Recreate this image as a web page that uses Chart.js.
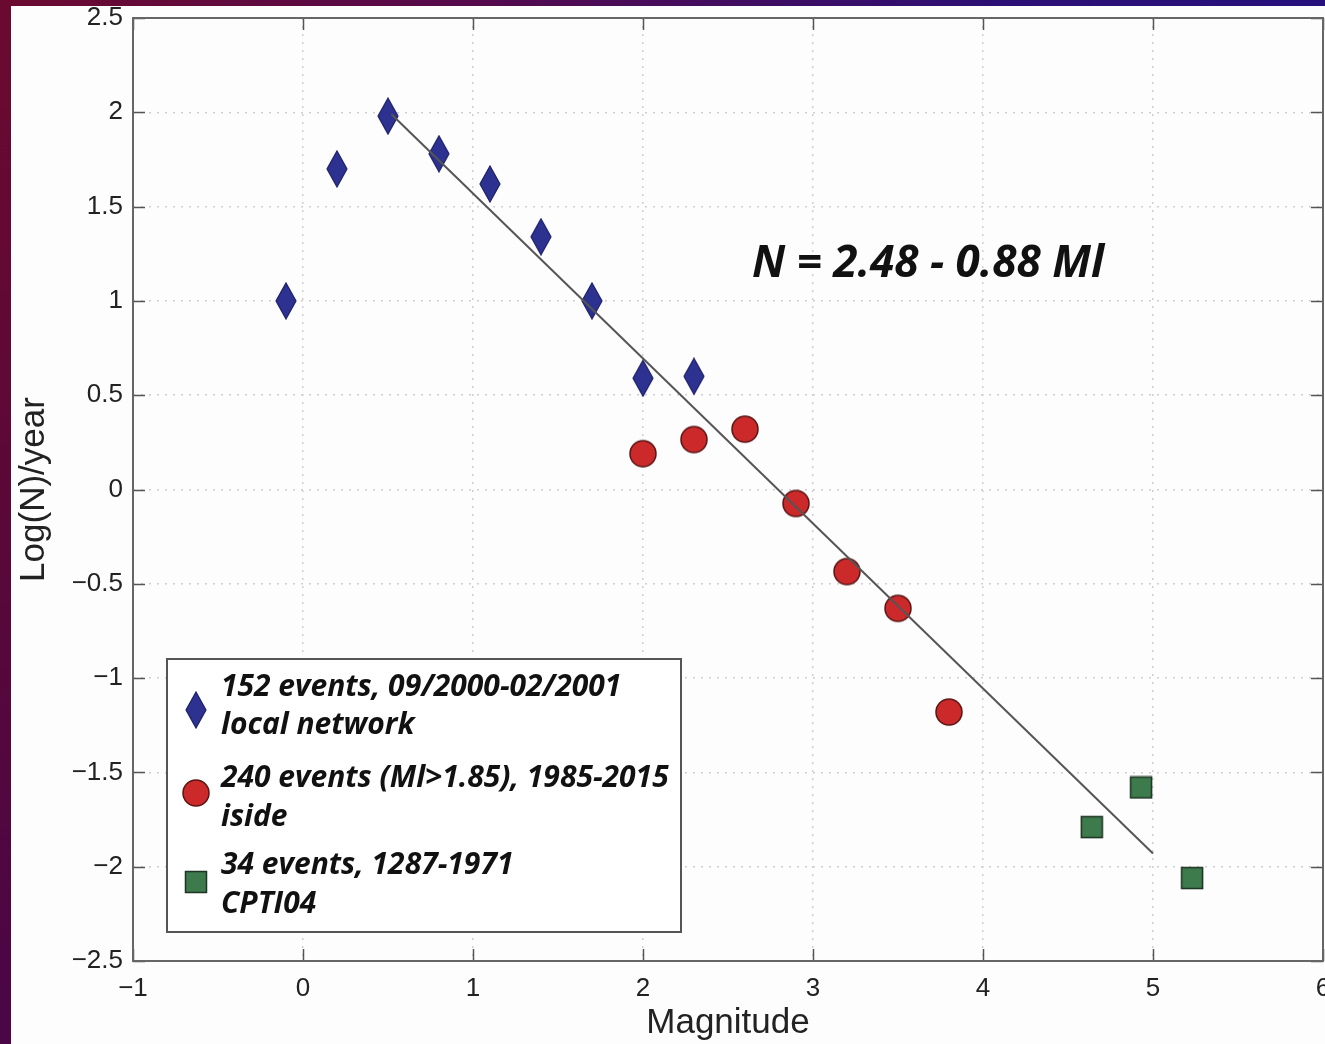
<!DOCTYPE html>
<html>
<head>
<meta charset="utf-8">
<script src="https://cdn.jsdelivr.net/npm/chart.js@4/dist/chart.umd.min.js"></script>
<style>
  html, body { margin: 0; padding: 0; overflow: hidden; width: 1325px; height: 1044px; }
  #slide { position: absolute; left: 0; top: 0; width: 1325px; height: 1044px;
           background: linear-gradient(90deg, #6b0a30 0%, #55094a 35%, #2c0f74 75%, #26107c 100%); }
  #leftStrip { position: absolute; left: 0; top: 0; width: 11px; height: 1044px;
               background: linear-gradient(180deg, #6b0a30 0%, #5a0838 50%, #4a0646 100%); }
  #paper { position: absolute; left: 11px; top: 6px; width: 1314px; height: 1038px; background: #fdfdfd; }
  #chart { position: absolute; left: 0; top: 0; }
</style>
</head>
<body>
<div id="slide"></div>
<div id="leftStrip"></div>
<div id="paper"></div>
<canvas id="chart" width="1360" height="1044"></canvas>
<script>
// local network (diamonds)
const localMag = [-0.1, 0.2, 0.5, 0.8, 1.1, 1.4, 1.7, 2.0, 2.3];
const localLogN = [1.0, 1.70, 1.98, 1.78, 1.62, 1.34, 1.0, 0.59, 0.60];

// iside (circles)
const isideMag = [2.0, 2.3, 2.6, 2.9, 3.2, 3.5, 3.8];
const isideLogN = [0.19, 0.265, 0.32, -0.074, -0.435, -0.63, -1.18];

// CPTI04 (squares)
const cptiMag = [4.64, 4.93, 5.23];
const cptiLogN = [-1.79, -1.58, -2.06];

// fitted line endpoints
const fitMag = [0.52, 5.0];
const fitLogN = [1.99, -1.93];

const xTickValues = [-1, 0, 1, 2, 3, 4, 5, 6];
const yTickValues = [-2.5, -2, -1.5, -1, -0.5, 0, 0.5, 1, 1.5, 2, 2.5];

const legendLines = [
    ['152 events, 09/2000-02/2001', 'local network'],
    ['240 events (Ml>1.85), 1985-2015', 'iside'],
    ['34 events, 1287-1971', 'CPTI04']
];
const fitLabel = 'N = 2.48 - 0.88 Ml';

function toPoints(xs, ys) {
    return xs.map((x, i) => ({ x: x, y: ys[i] }));
}

function fmtTick(v) {
    return v < 0 ? '\u2212' + Math.abs(v) : String(v);
}

// marker images
function makeDiamond() {
    const c = document.createElement('canvas');
    c.width = 24; c.height = 38;
    const g = c.getContext('2d');
    g.beginPath();
    g.moveTo(12, 1); g.lineTo(22, 19); g.lineTo(12, 37); g.lineTo(2, 19); g.closePath();
    g.fillStyle = '#2d3190';
    g.fill();
    g.strokeStyle = '#1c1f6a';
    g.lineWidth = 1.2;
    g.stroke();
    return c;
}
function makeCircle() {
    const c = document.createElement('canvas');
    c.width = 30; c.height = 30;
    const g = c.getContext('2d');
    g.beginPath();
    g.arc(15, 15, 13, 0, Math.PI * 2);
    g.fillStyle = '#cc2a2a';
    g.fill();
    g.strokeStyle = '#5a1414';
    g.lineWidth = 1.5;
    g.stroke();
    return c;
}
function makeSquare() {
    const c = document.createElement('canvas');
    c.width = 24; c.height = 24;
    const g = c.getContext('2d');
    g.fillStyle = '#3d7a4c';
    g.fillRect(1, 1, 22, 22);
    g.strokeStyle = '#1d3323';
    g.lineWidth = 1.5;
    g.strokeRect(1.5, 1.5, 21, 21);
    return c;
}
const diamondImg = makeDiamond();
const circleImg = makeCircle();
const squareImg = makeSquare();

const insideTicks = {
    id: 'insideTicks',
    afterDatasetsDraw(chart) {
        const ctx = chart.ctx;
        const a = chart.chartArea;
        const xs = chart.scales.x, ys = chart.scales.y;
        const len = 12;
        ctx.save();
        ctx.strokeStyle = '#555';
        ctx.lineWidth = 1.5;
        ctx.beginPath();
        xTickValues.forEach(v => {
            const px = Math.round(xs.getPixelForValue(v)) + 0.5;
            ctx.moveTo(px, a.bottom); ctx.lineTo(px, a.bottom - len);
            ctx.moveTo(px, a.top); ctx.lineTo(px, a.top + len);
        });
        yTickValues.forEach(v => {
            const py = Math.round(ys.getPixelForValue(v)) + 0.5;
            ctx.moveTo(a.left, py); ctx.lineTo(a.left + len, py);
            ctx.moveTo(a.right, py); ctx.lineTo(a.right - len, py);
        });
        ctx.stroke();
        ctx.lineWidth = 2;
        ctx.strokeStyle = '#666';
        ctx.strokeRect(a.left, a.top, a.right - a.left, a.bottom - a.top);
        ctx.restore();
    }
};

const legendBox = {
    id: 'legendBox',
    afterDraw(chart) {
        const ctx = chart.ctx;
        ctx.save();
        // equation
        ctx.fillStyle = '#111';
        ctx.font = 'italic bold 44px "Open Sans"';
        ctx.textAlign = 'center';
        ctx.textBaseline = 'middle';
        ctx.fillText(fitLabel, 928, 264);

        // legend box
        ctx.fillStyle = '#ffffff';
        ctx.fillRect(167, 659, 514, 273);
        ctx.strokeStyle = '#555';
        ctx.lineWidth = 2;
        ctx.strokeRect(167, 659, 514, 273);

        const icons = [diamondImg, circleImg, squareImg];
        const iconY = [710, 793, 882];
        const textY = [[687, 725], [778, 817], [865, 904]];
        icons.forEach((img, i) => {
            ctx.drawImage(img, 196 - img.width / 2, iconY[i] - img.height / 2);
        });
        ctx.fillStyle = '#111';
        ctx.font = 'italic bold 30px "Open Sans"';
        ctx.textAlign = 'left';
        legendLines.forEach((lines, i) => {
            lines.forEach((t, j) => ctx.fillText(t, 221, textY[i][j]));
        });
        ctx.restore();
    }
};

new Chart(document.getElementById('chart'), {
    type: 'scatter',
    data: {
        datasets: [
            {
                label: 'fit',
                data: toPoints(fitMag, fitLogN),
                showLine: true,
                borderColor: '#555',
                borderWidth: 2,
                pointRadius: 0,
                order: 0
            },
            {
                label: legendLines[0].join(' '),
                data: toPoints(localMag, localLogN),
                pointStyle: diamondImg,
                order: 1
            },
            {
                label: legendLines[1].join(' '),
                data: toPoints(isideMag, isideLogN),
                pointStyle: circleImg,
                order: 1
            },
            {
                label: legendLines[2].join(' '),
                data: toPoints(cptiMag, cptiLogN),
                pointStyle: squareImg,
                order: 1
            }
        ]
    },
    options: {
        responsive: false,
        animation: false,
        devicePixelRatio: 1,
        layout: { padding: { left: 11, top: 18, right: 37, bottom: 0 } },
        plugins: {
            legend: { display: false },
            tooltip: { enabled: false }
        },
        scales: {
            x: {
                type: 'linear',
                min: -1,
                max: 6,
                afterBuildTicks: s => { s.ticks = xTickValues.map(v => ({ value: v })); },
                afterFit: s => { s.height = 83; },
                grid: { color: '#cfcfcf', lineWidth: 1.5, drawTicks: false, tickLength: 0 },
                border: { display: false, dash: [2, 6] },
                ticks: { color: '#222', padding: 12, font: { family: 'Liberation Sans', size: 26 }, callback: fmtTick, maxRotation: 0 },
                title: { display: true, text: 'Magnitude', color: '#222', padding: { top: 0, bottom: 0 },
                         font: { family: 'Liberation Sans', size: 35 } }
            },
            y: {
                type: 'linear',
                min: -2.5,
                max: 2.5,
                afterBuildTicks: s => { s.ticks = yTickValues.map(v => ({ value: v })); },
                afterFit: s => { s.width = 122; s.paddingTop = 0; s.paddingBottom = 0; },
                grid: { color: '#cfcfcf', lineWidth: 1.5, drawTicks: false, tickLength: 0 },
                border: { display: false, dash: [2, 6] },
                ticks: { color: '#222', padding: 10, font: { family: 'Liberation Sans', size: 26 }, callback: fmtTick },
                title: { display: true, text: 'Log(N)/year', color: '#222', padding: { top: 2, bottom: 0 },
                         font: { family: 'Liberation Sans', size: 35 } }
            }
        }
    },
    plugins: [insideTicks, legendBox]
});
</script>
</body>
</html>
